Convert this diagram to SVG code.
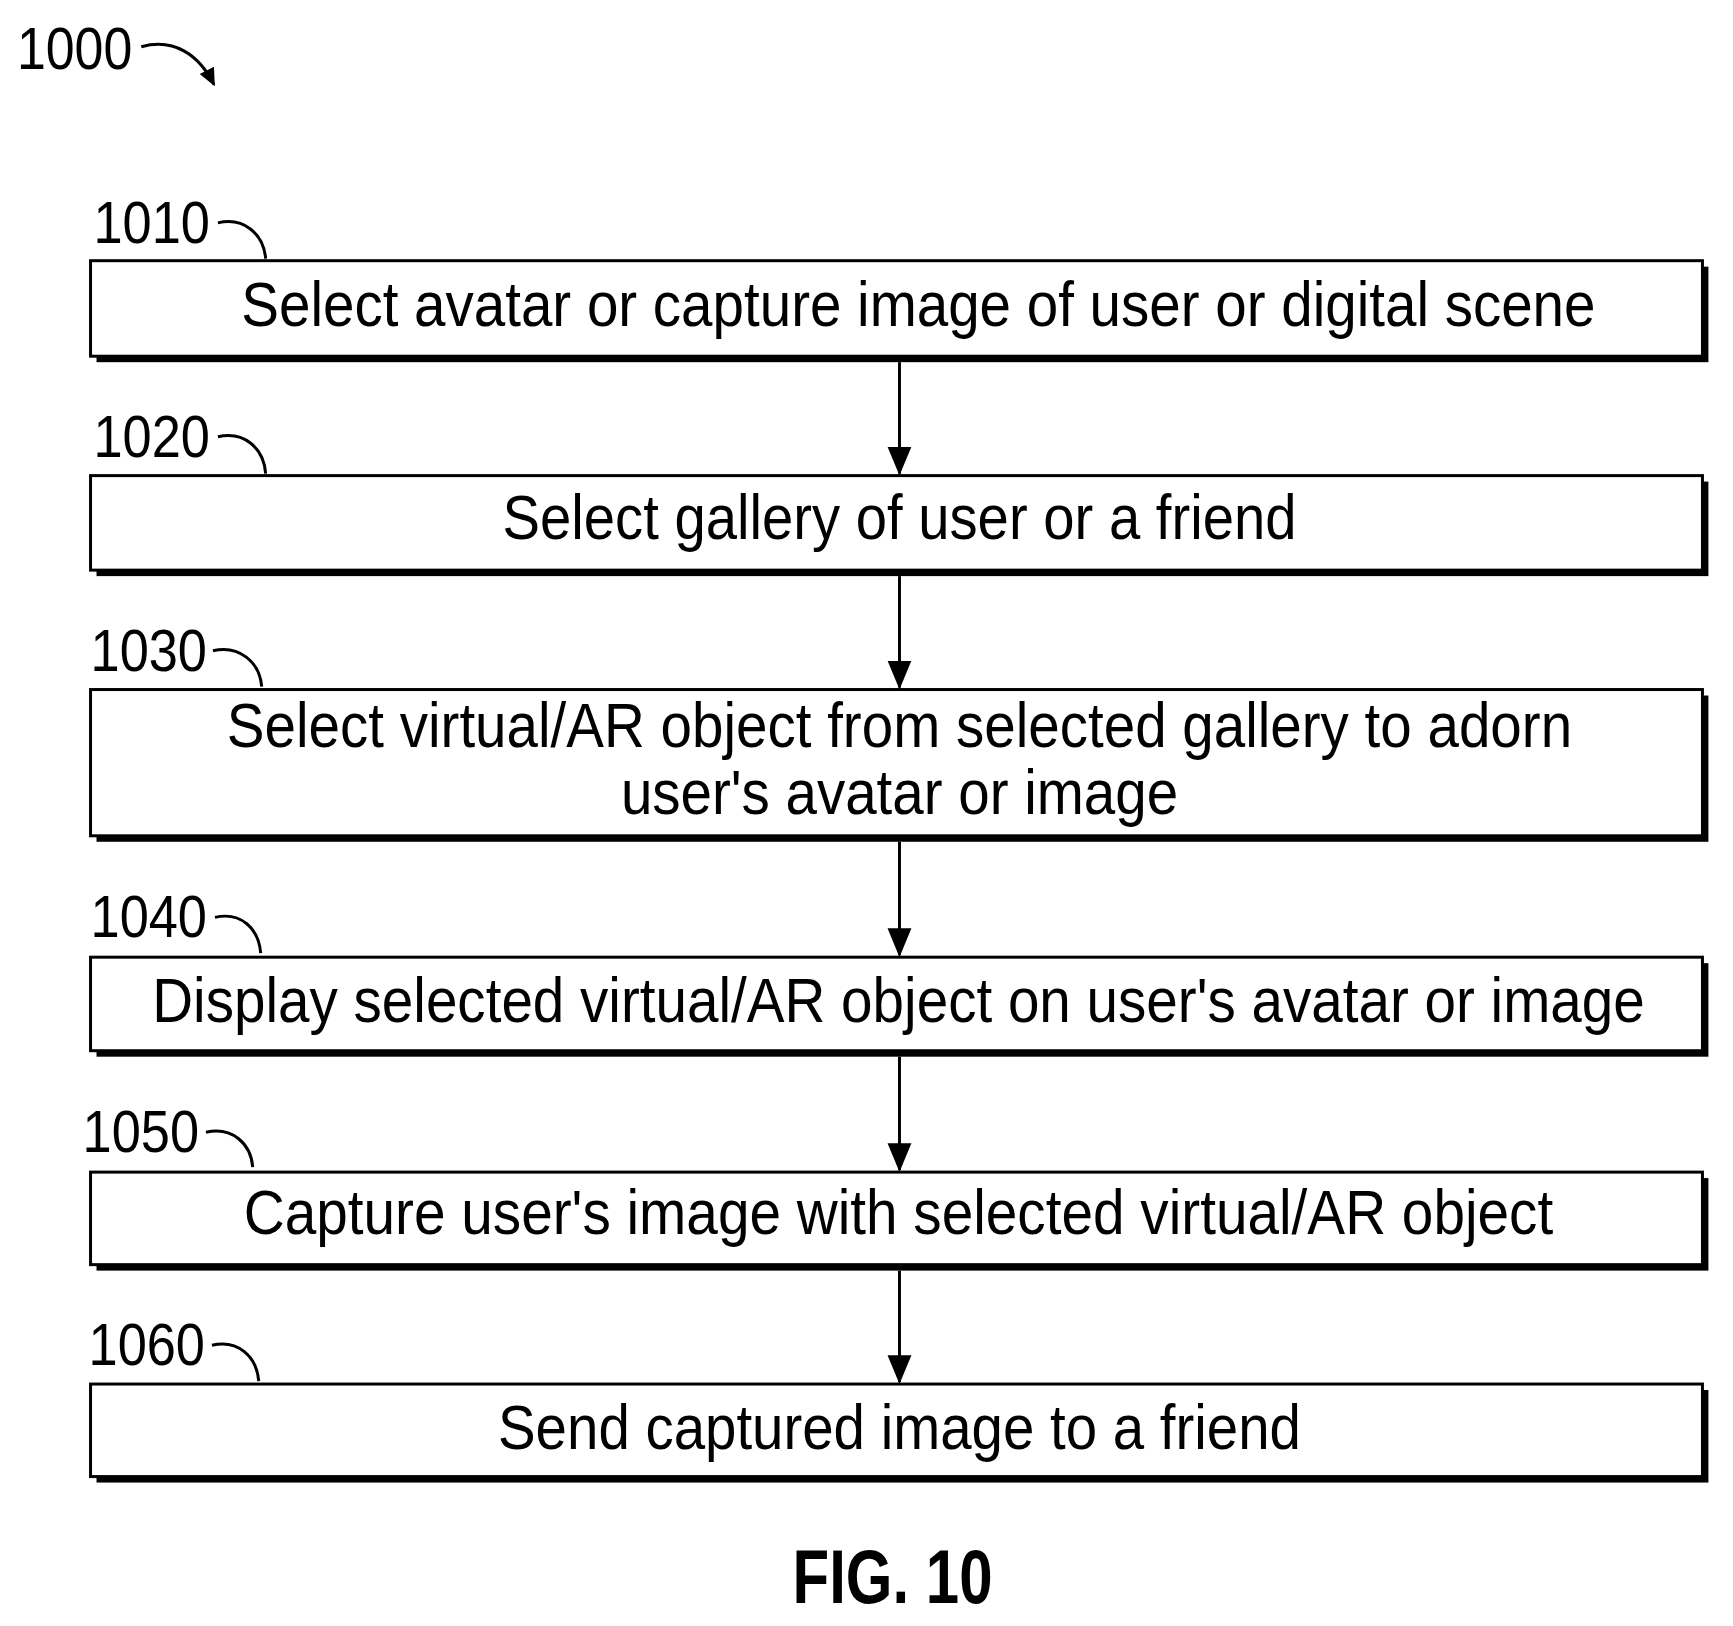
<svg xmlns="http://www.w3.org/2000/svg" width="1733" height="1626" viewBox="0 0 1733 1626">
<style>
.sh{fill:#000}
.bx{fill:#fff;stroke:#000;stroke-width:3}
.t{font-family:"Liberation Sans",Arial,sans-serif;font-size:64px;text-anchor:middle;fill:#000}
.l{font-family:"Liberation Sans",Arial,sans-serif;font-size:60px;fill:#000}
.c{fill:none;stroke:#000;stroke-width:3}
</style>
<defs><marker id="ah" markerWidth="20" markerHeight="20" refX="16" refY="10" orient="auto" markerUnits="userSpaceOnUse" viewBox="0 0 20 20"><path d="M0,2 L18,10 L0,18 Z" fill="#000"/></marker>
<marker id="ah2" markerWidth="30" markerHeight="30" refX="27" refY="15" orient="auto" markerUnits="userSpaceOnUse" viewBox="0 0 30 30"><path d="M0,3 L29,15 L0,27 Z" fill="#000"/></marker></defs>
<g transform="scale(0.995)">
<g id="ref1000"><text class="l" x="17" y="69" textLength="116" lengthAdjust="spacingAndGlyphs">1000</text><path class="c" d="M142,47 C175,38 200,55 215,85" marker-end="url(#ah)"/></g>
<g id="n1010"><rect class="sh" x="97" y="268" width="1620" height="96"/><rect class="bx" x="91" y="262" width="1620" height="96"/><text class="t" x="923" y="328" textLength="1361" lengthAdjust="spacingAndGlyphs">Select avatar or capture image of user or digital scene</text><text class="l" x="94" y="244" textLength="117" lengthAdjust="spacingAndGlyphs">1010</text><path class="c" d="M219,224 C245,218 265,235 267,260"/></g>
<g id="n1020"><rect class="sh" x="97" y="484" width="1620" height="95"/><rect class="bx" x="91" y="478" width="1620" height="95"/><text class="t" x="904" y="542" textLength="798" lengthAdjust="spacingAndGlyphs">Select gallery of user or a friend</text><text class="l" x="94" y="459" textLength="117" lengthAdjust="spacingAndGlyphs">1020</text><path class="c" d="M219,439 C245,433 265,450 267,476"/></g>
<g id="n1030"><rect class="sh" x="97" y="699" width="1620" height="147"/><rect class="bx" x="91" y="693" width="1620" height="147"/><text class="t" x="904" y="751" textLength="1352" lengthAdjust="spacingAndGlyphs">Select virtual/AR object from selected gallery to adorn</text><text class="t" x="904" y="818" textLength="560" lengthAdjust="spacingAndGlyphs">user's avatar or image</text><text class="l" x="91" y="674" textLength="117" lengthAdjust="spacingAndGlyphs">1030</text><path class="c" d="M214,654 C240,648 261,665 263,690"/></g>
<g id="n1040"><rect class="sh" x="97" y="968" width="1620" height="94"/><rect class="bx" x="91" y="962" width="1620" height="94"/><text class="t" x="903" y="1027" textLength="1500" lengthAdjust="spacingAndGlyphs">Display selected virtual/AR object on user's avatar or image</text><text class="l" x="91" y="942" textLength="117" lengthAdjust="spacingAndGlyphs">1040</text><path class="c" d="M216,922 C242,916 260,933 262,958"/></g>
<g id="n1050"><rect class="sh" x="97" y="1184" width="1620" height="93"/><rect class="bx" x="91" y="1178" width="1620" height="93"/><text class="t" x="903" y="1240" textLength="1316" lengthAdjust="spacingAndGlyphs">Capture user's image with selected virtual/AR object</text><text class="l" x="83" y="1158" textLength="117" lengthAdjust="spacingAndGlyphs">1050</text><path class="c" d="M207,1138 C233,1132 252,1149 254,1173"/></g>
<g id="n1060"><rect class="sh" x="97" y="1397" width="1620" height="93"/><rect class="bx" x="91" y="1391" width="1620" height="93"/><text class="t" x="904" y="1456" textLength="807" lengthAdjust="spacingAndGlyphs">Send captured image to a friend</text><text class="l" x="89" y="1372" textLength="117" lengthAdjust="spacingAndGlyphs">1060</text><path class="c" d="M213,1352 C239,1346 258,1363 260,1388"/></g>
<g id="connectors">
<line class="c" x1="904" y1="364" x2="904" y2="476" marker-end="url(#ah2)"/>
<line class="c" x1="904" y1="579" x2="904" y2="691" marker-end="url(#ah2)"/>
<line class="c" x1="904" y1="846" x2="904" y2="960" marker-end="url(#ah2)"/>
<line class="c" x1="904" y1="1062" x2="904" y2="1176" marker-end="url(#ah2)"/>
<line class="c" x1="904" y1="1277" x2="904" y2="1389" marker-end="url(#ah2)"/>
</g>
<text x="897" y="1611" font-family="'Liberation Sans',Arial,sans-serif" font-weight="bold" font-size="76" text-anchor="middle" textLength="201" lengthAdjust="spacingAndGlyphs">FIG. 10</text>
</g>
</svg>
